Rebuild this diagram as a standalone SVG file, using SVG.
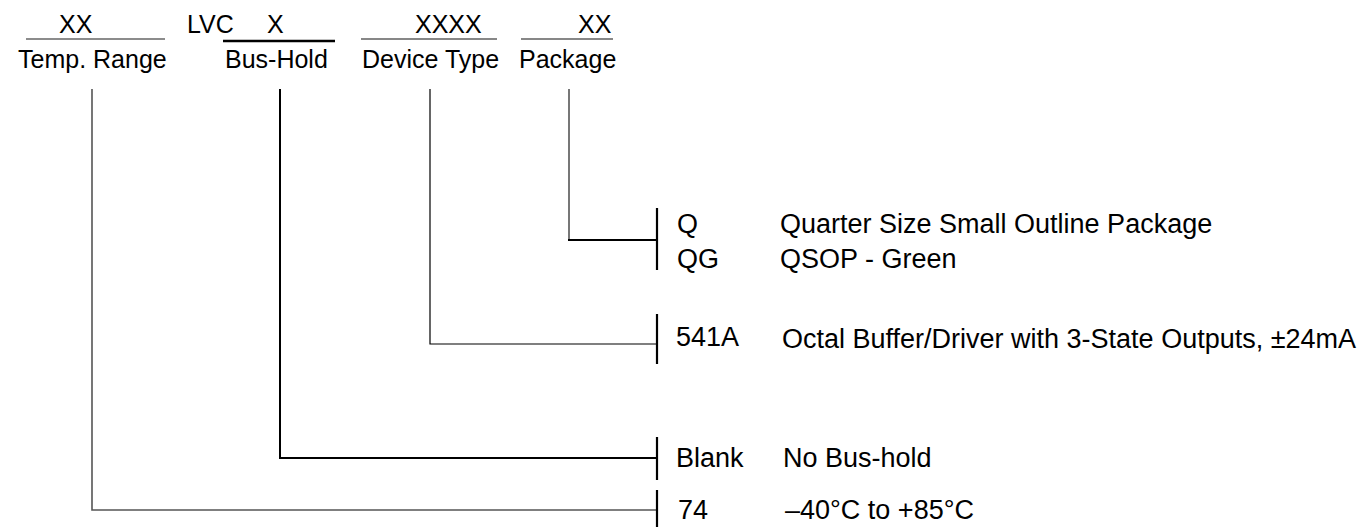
<svg xmlns="http://www.w3.org/2000/svg" width="1366" height="527" viewBox="0 0 1366 527">
<style>
text{font-family:"Liberation Sans",Arial,Helvetica,sans-serif;fill:#000}
.hd{font-size:25px}
.rt{font-size:27px}
.ul{stroke:#111;stroke-width:1.2;fill:none}
.c{fill:none;stroke:#000;stroke-width:2}
.cg{fill:none;stroke:#555;stroke-width:1.6}
.ct{fill:none;stroke:#000;stroke-width:1.2}
.tk{stroke:#000;stroke-width:2.2}
</style>
<rect width="1366" height="527" fill="#fff"/>
<g id="header">
<text class="hd" x="59" y="33">XX</text>
<text class="hd" x="187" y="33">LVC</text>
<text class="hd" x="267" y="33">X</text>
<text class="hd" x="415" y="33">XXXX</text>
<text class="hd" x="578" y="33">XX</text>
<line x1="26" y1="39" x2="165" y2="39" stroke="#666" stroke-width="1.4"/>
<line x1="223" y1="41" x2="335" y2="41" stroke="#000" stroke-width="2.4"/>
<line class="ul" x1="361" y1="39" x2="497" y2="39"/>
<line class="ul" x1="521" y1="39" x2="613" y2="39"/>
<text class="hd" x="18" y="68">Temp. Range</text>
<text class="hd" x="225" y="68">Bus-Hold</text>
<text class="hd" x="362" y="68">Device Type</text>
<text class="hd" x="519" y="68">Package</text>
</g>
<g id="connectors">
<polyline class="cg" points="569,89 569,240"/>
<line class="c" x1="568" y1="240" x2="657" y2="240"/>
<polyline class="ct" points="430,89 430,344 657,344"/>
<polyline class="c" points="280,89 280,458 657,458"/>
<polyline class="cg" points="92,89 92,510 657,510"/>
</g>
<g id="package-options">
<line class="tk" x1="657" y1="208" x2="657" y2="270"/>
<text class="rt" x="677" y="233">Q</text>
<text class="rt" x="780" y="233">Quarter Size Small Outline Package</text>
<text class="rt" x="677" y="268">QG</text>
<text class="rt" x="780" y="268">QSOP - Green</text>
</g>
<g id="device-options">
<line class="tk" x1="657" y1="314" x2="657" y2="364"/>
<text class="rt" x="676" y="346">541A</text>
<text class="rt" x="782" y="348">Octal Buffer/Driver with 3-State Outputs, ±24mA</text>
</g>
<g id="bushold-options">
<line class="tk" x1="657" y1="437" x2="657" y2="480"/>
<text class="rt" x="676" y="467">Blank</text>
<text class="rt" x="783" y="467">No Bus-hold</text>
</g>
<g id="temp-options">
<line class="tk" x1="657" y1="490" x2="657" y2="527"/>
<text class="rt" x="678" y="519">74</text>
<text class="rt" x="785" y="519">–40°C to +85°C</text>
</g>
</svg>
